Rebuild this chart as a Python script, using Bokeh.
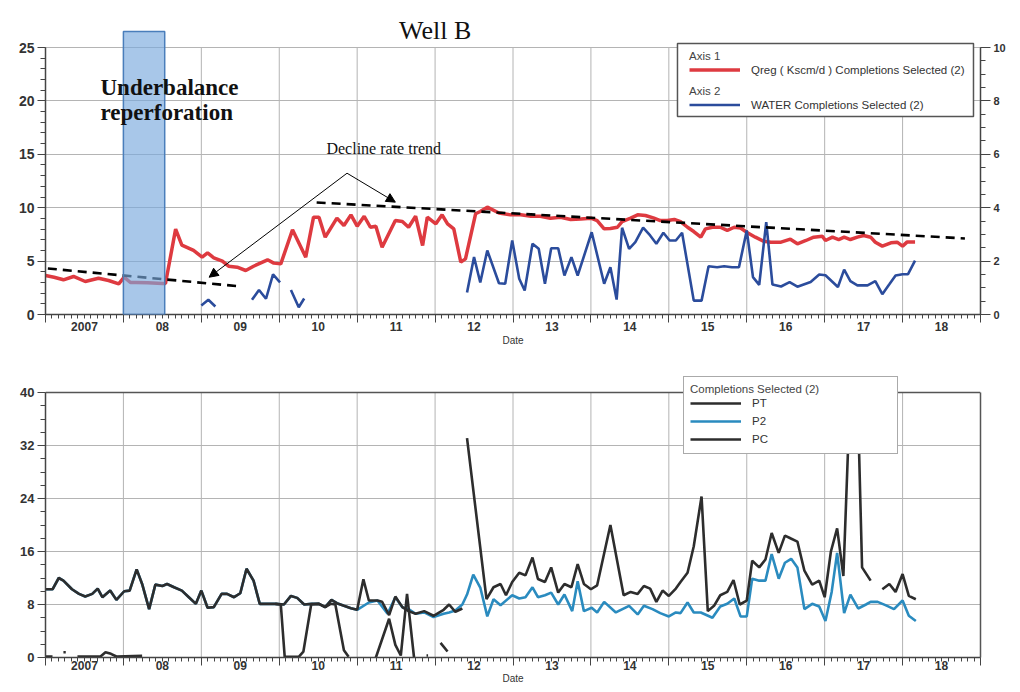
import math
from bokeh.plotting import figure
from bokeh.models import (Range1d, LinearAxis, FixedTicker, Legend, LegendItem,
                          Label, Arrow, NormalHead, BoxAnnotation, Span)
from bokeh.layouts import column
from bokeh.embed import file_html
from bokeh.resources import INLINE

NAN = float("nan")

# ---------------- axis data ----------------
year_starts = list(range(2007, 2020))
year_labels = ["2007", "08", "09", "10", "11", "12", "13", "14", "15", "16", "17", "18"]
qreg_ticks = [0, 5, 10, 15, 20, 25]
water_ticks = [0, 2, 4, 6, 8, 10]
press_ticks = [0, 8, 16, 24, 32, 40]

# ---------------- top chart data ----------------
qreg_year = [2007.00, 2007.11, 2007.23, 2007.36, 2007.51, 2007.68, 2007.81, 2007.94,
             2008.01, 2008.09, 2008.16, 2008.31, 2008.50, 2008.54, 2008.67, 2008.75, 2008.90,
             2009.01, 2009.08, 2009.16, 2009.27, 2009.35, 2009.46, 2009.57, 2009.67, 2009.85, 2009.93,
             2010.02, 2010.17, 2010.34, 2010.44, 2010.51, 2010.59, 2010.74, 2010.83, 2010.92,
             2011.00, 2011.09, 2011.17, 2011.24, 2011.32, 2011.49, 2011.58, 2011.66, 2011.75, 2011.84, 2011.90,
             2012.01, 2012.09, 2012.16, 2012.24, 2012.33, 2012.39, 2012.52, 2012.58, 2012.67, 2012.82, 2012.97,
             2013.10, 2013.23, 2013.35, 2013.48, 2013.61, 2013.74, 2013.87,
             2014.00, 2014.08, 2014.17, 2014.25, 2014.34, 2014.40, 2014.51, 2014.60, 2014.70, 2014.81, 2014.89, 2014.98,
             2015.07, 2015.15, 2015.24, 2015.32, 2015.41, 2015.47, 2015.56, 2015.66, 2015.75, 2015.84, 2015.92,
             2016.01, 2016.11, 2016.22, 2016.31, 2016.44, 2016.56, 2016.65, 2016.76, 2016.86, 2016.97,
             2017.01, 2017.10, 2017.18, 2017.25, 2017.33, 2017.42, 2017.50, 2017.59, 2017.65, 2017.74, 2017.85, 2017.93,
             2018.00, 2018.06, 2018.16]
qreg_val = [3.65, 3.49, 3.25, 3.56, 3.09, 3.40, 3.18, 2.87,
            3.5, 3.0, 3.0, 2.97, 2.9, 2.9, 8.0, 6.5, 6.0,
            5.37, 5.77, 5.31, 4.99, 4.52, 4.43, 4.12, 4.52, 5.12, 4.81,
            4.74, 7.93, 5.37, 9.11, 9.11, 7.24, 9.02, 8.33, 9.33,
            8.27, 9.2, 8.17, 8.27, 6.30, 8.80, 8.71, 8.17, 9.2, 6.46, 9.11,
            8.49, 9.33, 8.49, 8.02, 4.90, 5.21, 9.43, 9.64, 10.05, 9.5, 9.33,
            9.33, 9.2, 9.2, 9.02, 9.11, 8.9, 8.95,
            9.02, 8.8, 8.02, 8.05, 8.17, 8.7, 9.02, 9.33, 9.27, 9.02, 8.8, 8.8,
            8.9, 8.7, 8.17, 7.77, 7.24, 8.02, 8.17, 8.17, 7.87, 8.17, 8.1,
            7.65, 7.24, 6.85, 6.77, 6.77, 7.05, 6.62, 6.93, 7.24, 7.33,
            6.93, 7.24, 7.02, 7.24, 7.02, 7.24, 7.4, 7.24, 6.77, 6.4, 6.71, 6.77,
            6.4, 6.8, 6.8]

water_year = [2009.00, 2009.09, 2009.18, 2009.40,
              2009.65, 2009.74, 2009.83, 2009.92, 2010.01, 2010.08,
              2010.15, 2010.25, 2010.32, 2011.40,
              2012.41, 2012.50, 2012.58, 2012.67, 2012.82, 2012.90, 2012.99,
              2013.08, 2013.15, 2013.25, 2013.33, 2013.41, 2013.49, 2013.58, 2013.66, 2013.75, 2013.83,
              2014.01, 2014.17, 2014.25, 2014.33, 2014.40, 2014.49, 2014.57, 2014.67, 2014.76, 2014.84, 2014.93,
              2015.01, 2015.09, 2015.17, 2015.32, 2015.42, 2015.51, 2015.62, 2015.71, 2015.81, 2015.90,
              2016.00, 2016.08, 2016.16, 2016.25, 2016.33, 2016.44, 2016.55, 2016.65, 2016.82, 2016.93,
              2017.01, 2017.17, 2017.25, 2017.33, 2017.42, 2017.55, 2017.65, 2017.74, 2017.83, 2017.91,
              2018.00, 2018.07, 2018.16]
water_val = [0.34, 0.55, 0.30, NAN,
             0.55, 0.92, 0.59, 1.50, 1.20, NAN,
             0.92, 0.27, 0.60, NAN,
             0.82, 2.15, 1.20, 2.40, 1.17, 1.15, 2.77,
             1.34, 0.90, 2.65, 2.46, 1.15, 2.48, 2.48, 1.46, 2.15, 1.46,
             3.08, 1.15, 1.77, 0.56, 3.25, 2.46, 2.71, 3.25, 2.96, 2.65, 3.06,
             2.77, 2.77, 3.06, 0.52, 0.52, 1.81, 1.77, 1.81, 1.77, 1.77,
             3.15, 1.40, 1.11, 3.46, 1.12, 1.05, 1.21, 1.04, 1.22, 1.50,
             1.47, 1.03, 1.68, 1.25, 1.09, 1.09, 1.25, 0.76, 1.13, 1.46,
             1.51, 1.51, 2.02]

reperf_start, reperf_end, reperf_top = 2008.0, 2008.53, 26.5
trend1_x, trend1_y = [2007.03, 2009.52], [4.31, 2.62]
trend2_x, trend2_y = [2010.48, 2018.80], [10.49, 7.12]
arrow_from = (2010.87, 13.23)
arrow_to = [(2009.10, 3.49), (2011.49, 10.52)]

# ---------------- bottom chart data ----------------
early_year = [2007.00, 2007.09, 2007.17, 2007.23, 2007.34, 2007.43, 2007.51, 2007.60, 2007.67, 2007.73, 2007.83, 2007.91,
              2008.01, 2008.08, 2008.17, 2008.24, 2008.33, 2008.41, 2008.50, 2008.56, 2008.65, 2008.75, 2008.84, 2008.93,
              2009.00, 2009.08, 2009.16, 2009.26, 2009.33, 2009.42, 2009.50, 2009.58, 2009.67, 2009.75, 2009.85, 2009.95,
              2010.06, 2010.15, 2010.23, 2010.32, 2010.42, 2010.51, 2010.59, 2010.67, 2010.74, 2010.83, 2010.92, 2011.00]
early_val = [10.3, 10.3, 12.0, 11.6, 10.3, 9.6, 9.2, 9.6, 10.4, 9.1, 10.1, 8.7,
             10.0, 10.1, 13.3, 11.1, 7.3, 11.0, 10.8, 11.1, 10.6, 10.1, 9.1, 8.1,
             10.1, 7.5, 7.6, 9.6, 9.6, 9.1, 9.7, 13.4, 11.6, 8.1, 8.1, 8.1,
             8.0, 9.3, 9.0, 8.0, 8.1, 8.1, 7.6, 8.7, 8.2, 7.8, 7.45, 7.2]

pt_late_year = [2011.08, 2011.15, 2011.26, 2011.32, 2011.41, 2011.49, 2011.58, 2011.66, 2011.75, 2011.86, 2011.98,
                2012.11, 2012.18, 2012.26, 2012.35, 2012.38, 2012.41, 2012.66, 2012.75, 2012.84, 2012.91, 2012.99,
                2013.08, 2013.16, 2013.25, 2013.32, 2013.41, 2013.49, 2013.58, 2013.66, 2013.75, 2013.83, 2013.91,
                2014.00, 2014.08, 2014.25, 2014.42, 2014.51, 2014.60, 2014.68, 2014.76, 2014.84, 2014.92,
                2015.00, 2015.09, 2015.15, 2015.24, 2015.32, 2015.42, 2015.50, 2015.58, 2015.66, 2015.75, 2015.83, 2015.91,
                2016.00, 2016.07, 2016.16, 2016.24, 2016.32, 2016.41, 2016.49, 2016.56, 2016.65, 2016.74, 2016.84, 2016.93,
                2017.00, 2017.08, 2017.16, 2017.24, 2017.33, 2017.42, 2017.48, 2017.59, 2017.66, 2017.74, 2017.83, 2017.91,
                2018.00, 2018.08, 2018.17]
pt_late_val = [11.8, 8.6, 8.6, 8.4, 6.4, 9.2, 7.6, 7.0, 6.6, 7.0, 6.3,
               7.2, 8.0, 6.9, 7.4, NAN, 33.1, 8.8, 10.6, 11.1, 9.4, 11.4,
               12.8, 12.4, 15.1, 11.85, 11.4, 13.6, 9.8, 11.1, 10.6, 14.1, 11.1,
               10.3, 10.9, 20.0, 9.4, 9.9, 9.6, 10.8, 10.4, 8.4, 10.1,
               9.3, 10.4, 11.4, 12.8, 16.8, 24.3, 7.0, 7.8, 9.4, 9.9, 11.7, 8.0,
               8.6, 14.6, 13.6, 14.8, 18.8, 15.8, 18.4, 18.0, 17.5, 13.1, 11.0, 11.6,
               9.1, 16.0, 19.5, 12.3, 41.0, 41.0, 13.6, 11.6, NAN, 10.3, 11.1, 9.9,
               12.6, 9.3, 8.8]

p2_late_year = [2011.15, 2011.26, 2011.39, 2011.49, 2011.58, 2011.66, 2011.75, 2011.86, 2011.98,
                2012.11, 2012.18, 2012.26, 2012.35, 2012.41, 2012.49, 2012.58, 2012.67, 2012.75, 2012.84, 2012.99,
                2013.08, 2013.16, 2013.25, 2013.32, 2013.41, 2013.49, 2013.58, 2013.66, 2013.76, 2013.83, 2013.91,
                2014.01, 2014.08, 2014.17, 2014.32, 2014.49, 2014.60, 2014.68, 2014.79, 2014.89,
                2015.00, 2015.09, 2015.15, 2015.24, 2015.32, 2015.41, 2015.56, 2015.66, 2015.75, 2015.84, 2015.92,
                2016.00, 2016.07, 2016.16, 2016.24, 2016.32, 2016.41, 2016.49, 2016.57, 2016.65, 2016.74, 2016.84, 2016.93,
                2017.01, 2017.09, 2017.16, 2017.25, 2017.33, 2017.43, 2017.53, 2017.59, 2017.68, 2017.78, 2017.89,
                2018.00, 2018.08, 2018.17]
p2_late_val = [8.3, 8.6, 6.6, 9.1, 7.6, 7.3, 6.6, 6.8, 6.1,
               6.6, 6.8, 7.1, 8.0, 9.5, 12.5, 10.56, 6.2, 8.8, 7.9, 9.4,
               8.9, 9.1, 10.6, 9.1, 9.4, 9.8, 8.0, 9.5, 7.0, 11.5, 7.0,
               7.5, 6.8, 8.4, 6.8, 7.8, 6.5, 7.8, 7.3, 6.7,
               6.2, 6.8, 6.7, 8.3, 6.8, 6.8, 6.0, 7.7, 8.1, 8.9, 6.2,
               6.2, 11.9, 11.6, 11.6, 15.6, 11.9, 14.3, 14.9, 13.6, 7.3, 8.1, 7.7,
               5.5, 9.9, 15.8, 6.7, 9.5, 7.4, 8.0, 8.4, 8.4, 7.9, 7.3,
               8.6, 6.3, 5.5]

pc_year = [2007.00, 2007.09, 2007.15, 2007.23, 2007.26, 2007.33,
           2007.41, 2007.71, 2007.77, 2007.84, 2007.91, 2008.24, 2009.00,
           2009.95, 2010.02, 2010.07, 2010.25, 2010.31, 2010.41, 2010.51, 2010.59, 2010.66, 2010.72,
           2010.83, 2010.89, 2011.10,
           2011.24, 2011.41, 2011.49, 2011.56, 2011.64, 2011.73, 2011.80,
           2011.89, 2011.91, 2012.00, 2012.07, 2012.16]
pc_val = [0.15, 0.15, NAN, 0.8, 0.8, NAN,
          0.15, 0.2, 0.8, 0.55, 0.15, 0.25, NAN,
          8.1, 8.0, 0.1, 0.1, 0.9, 8.0, 8.1, 7.6, 8.1, 8.0,
          1.1, 0.1, NAN,
          0.0, 5.85, 1.9, 0.3, 9.6, 0.0, NAN,
          0.3, 0.3, NAN, 2.2, 0.9]

pt_year = early_year + pt_late_year
pt_val = early_val + pt_late_val
p2_year = early_year + p2_late_year
p2_val = early_val + p2_late_val

# ---------------- styling helpers ----------------
GRID = "#b4b4b4"
AXIS = "#444444"
TXT = "#333333"
SANS = "Liberation Sans"
SERIF = "Liberation Serif"
FIG_W = 1012


def add_x_axes(p, label_size, standoff, date_standoff):
    # axis carrying the tick marks: long ticks at year boundaries, short monthly ticks (no labels)
    ax = p.xaxis[0]
    ax.ticker = FixedTicker(ticks=year_starts,
                            minor_ticks=[year_starts[0] + m / 12 for m in range(12 * 12 + 1)])
    ax.major_tick_out = 8
    ax.major_tick_in = 0
    ax.minor_tick_out = 4
    ax.minor_tick_in = 0
    ax.major_tick_line_color = AXIS
    ax.minor_tick_line_color = AXIS
    ax.axis_line_color = AXIS
    ax.axis_line_width = 1.5
    ax.major_label_text_font_size = "0px"
    ax.major_label_text_color = None
    ax.major_label_text_alpha = 0
    ax.major_label_standoff = 0
    # axis carrying the year labels centred in each year
    lab = LinearAxis(ticker=FixedTicker(ticks=[y + 0.5 for y in year_starts[:-1]], minor_ticks=[]),
                     major_label_overrides={y + 0.5: t for y, t in zip(year_starts[:-1], year_labels)},
                     axis_line_color=None, major_tick_line_color=None, minor_tick_line_color=None,
                     major_tick_out=0, major_tick_in=0, minor_tick_out=0, minor_tick_in=0,
                     major_label_text_font=SANS, major_label_text_font_style="bold",
                     major_label_text_font_size=label_size, major_label_text_color=TXT,
                     major_label_standoff=standoff,
                     axis_label="Date", axis_label_text_font=SANS, axis_label_text_font_style="normal",
                     axis_label_text_font_size="10px", axis_label_text_color=TXT,
                     axis_label_standoff=date_standoff)
    p.add_layout(lab, "below")


def style_yaxis(ax, ticks, minor_step, label_size, major_out, minor_out):
    top = ticks[-1]
    n = int(round(top / minor_step))
    ax.ticker = FixedTicker(ticks=ticks, minor_ticks=[i * minor_step for i in range(n + 1)])
    ax.bounds = (ticks[0], top)
    ax.axis_line_color = AXIS
    ax.axis_line_width = 1.5
    ax.major_tick_line_color = AXIS
    ax.minor_tick_line_color = AXIS
    ax.major_tick_out = major_out
    ax.major_tick_in = 0
    ax.minor_tick_out = minor_out
    ax.minor_tick_in = 0
    ax.major_label_text_font = SANS
    ax.major_label_text_font_style = "bold"
    ax.major_label_text_font_size = label_size
    ax.major_label_text_color = TXT
    ax.major_label_standoff = 3


def legend_kw():
    return dict(title_text_font=SANS, title_text_font_size="11.5px", title_text_font_style="normal",
                title_text_color="#444444", title_standoff=0,
                label_text_font=SANS, label_text_font_size="11.5px", label_text_color=TXT,
                glyph_width=51, label_standoff=11, padding=6, margin=0)


# ---------------- top figure ----------------
top_end = 306 * 25 / 267.0
p1 = figure(width=FIG_W, height=353, x_range=Range1d(2007, 2019), y_range=Range1d(0, top_end),
            output_backend="svg", toolbar_location=None,
            min_border_left=45, min_border_right=32, min_border_top=8, min_border_bottom=39)
p1.outline_line_color = None
p1.background_fill_color = "white"
p1.border_fill_color = "white"
p1.extra_y_ranges = {"w": Range1d(0, top_end / 2.5)}

add_x_axes(p1, "12px", -1, 1)
style_yaxis(p1.yaxis[0], qreg_ticks, 1, "14px", 8, 5)
ax_r = LinearAxis(y_range_name="w")
style_yaxis(ax_r, water_ticks, 0.5, "11px", 10, 5)
p1.add_layout(ax_r, "right")

p1.xgrid.visible = False
p1.ygrid.ticker = FixedTicker(ticks=qreg_ticks[1:])
p1.ygrid.grid_line_color = GRID
p1.ygrid.grid_line_width = 1
inner_years = year_starts[1:-1]
p1.segment(x0=inner_years, y0=[qreg_ticks[0]] * len(inner_years), x1=inner_years,
           y1=[qreg_ticks[-1]] * len(inner_years), line_color=GRID, line_width=1, level="underlay")

r_q = p1.line(qreg_year, qreg_val, line_color="#de3a40", line_width=3.5)
r_w = p1.line(water_year, water_val, y_range_name="w", line_color="#2b4c9c", line_width=2.6)

p1.line(trend1_x, trend1_y, line_color="black", line_width=2.6, line_dash="9 6")
p1.line(trend2_x, trend2_y, line_color="black", line_width=2.6, line_dash="9 6")

for (tx, ty) in arrow_to:
    p1.add_layout(Arrow(end=NormalHead(size=9, fill_color="black", line_color="black", line_width=1),
                        x_start=arrow_from[0], y_start=arrow_from[1], x_end=tx, y_end=ty,
                        line_color="black", line_width=1))

p1.add_layout(BoxAnnotation(left=reperf_start, right=reperf_end, bottom=0, top=reperf_top,
                            fill_color="#7aa9dd", fill_alpha=0.65,
                            line_color="#4a7ebb", line_width=1.5, line_alpha=1.0))

p1.add_layout(Label(x=2012.0, y=26.59, text="Well B", text_font=SERIF, text_font_size="26px",
                    text_align="center", text_baseline="alphabetic", text_color="#111111"))
p1.add_layout(Label(x=2007.706, y=21.25, text="Underbalance", text_font=SERIF, text_font_size="23px",
                    text_font_style="bold", text_baseline="alphabetic", text_color="#111111"))
p1.add_layout(Label(x=2007.706, y=18.91, text="reperforation", text_font=SERIF, text_font_size="23px",
                    text_font_style="bold", text_baseline="alphabetic", text_color="#111111"))
p1.add_layout(Label(x=2010.606, y=15.54, text="Decline rate trend", text_font=SERIF, text_font_size="16px",
                    text_baseline="alphabetic", text_color="#111111"))

# legend frame (white box with border), then two borderless legends inside it
p1.add_layout(BoxAnnotation(left=2015.111, right=2018.910, bottom=18.54, top=25.37,
                            fill_color="white", fill_alpha=1.0,
                            line_color="#555555", line_width=1.5, line_alpha=1.0))
leg_a = Legend(items=[LegendItem(label="Qreg ( Kscm/d ) Completions Selected (2)", renderers=[r_q])],
               location=(644, 237), title="Axis 1", glyph_height=15, label_height=15,
               border_line_color=None, background_fill_alpha=0.0, **legend_kw())
leg_b = Legend(items=[LegendItem(label="WATER Completions Selected (2)", renderers=[r_w])],
               location=(644, 202), title="Axis 2", glyph_height=15, label_height=15,
               border_line_color=None, background_fill_alpha=0.0, **legend_kw())
p1.add_layout(leg_a)
p1.add_layout(leg_b)

# ---------------- bottom figure ----------------
bot_end = 285 * 40 / 265.0
p2 = figure(width=FIG_W, height=338, x_range=Range1d(2007, 2019), y_range=Range1d(0, bot_end),
            output_backend="svg", toolbar_location=None,
            min_border_left=45, min_border_right=32, min_border_top=19, min_border_bottom=34)
p2.outline_line_color = None
p2.background_fill_color = "white"
p2.border_fill_color = "white"

add_x_axes(p2, "12px", -5, 0)
style_yaxis(p2.yaxis[0], press_ticks, 2, "13px", 8, 5)
ax_r2 = LinearAxis(ticker=FixedTicker(ticks=[]), bounds=(press_ticks[0], press_ticks[-1]),
                   axis_line_color="#555555", axis_line_width=1.5,
                   major_tick_line_color=None, minor_tick_line_color=None,
                   major_label_text_font_size="0px", major_label_text_color=None)
p2.add_layout(ax_r2, "right")
p2.add_layout(Span(location=press_ticks[-1], dimension="width", line_color="#555555", line_width=1.5))

p2.xgrid.visible = False
p2.segment(x0=inner_years, y0=[press_ticks[0]] * len(inner_years), x1=inner_years,
           y1=[press_ticks[-1]] * len(inner_years), line_color=GRID, line_width=1, level="underlay")
p2.ygrid.ticker = FixedTicker(ticks=press_ticks[1:-1])
p2.ygrid.grid_line_color = GRID

r_p2 = p2.line(p2_year, p2_val, line_color="#2a8bbf", line_width=2.6)
r_pt = p2.line(pt_year, pt_val, line_color="#2d2d2d", line_width=2.6)
r_pc = p2.line(pc_year, pc_val, line_color="#2d2d2d", line_width=2.6)

leg2 = Legend(items=[LegendItem(label="PT", renderers=[r_pt]),
                     LegendItem(label="P2", renderers=[r_p2]),
                     LegendItem(label="PC", renderers=[r_pc])],
              location=(638, 203), title="Completions Selected (2)",
              glyph_height=16, label_height=16, label_width=139, spacing=2,
              border_line_color="#555555", border_line_width=1.5,
              background_fill_color="white", background_fill_alpha=1.0, **legend_kw())
p2.add_layout(leg2)

layout = column(p1, p2, spacing=0)
open("out.html", "w").write(file_html(layout, INLINE))
